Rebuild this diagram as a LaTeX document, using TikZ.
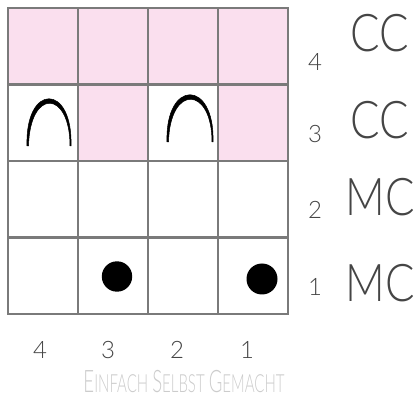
\documentclass[tikz,border=0pt]{standalone}
\usepackage{fontspec}
\setmainfont{Lato}
\newfontfamily\hand{Lato Light}
\definecolor{gridgray}{HTML}{7A7A7A}
\definecolor{cellpink}{HTML}{FADFEE}
\definecolor{inkgray}{HTML}{454545}
\definecolor{brandgray}{HTML}{CCCCCC}
\begin{document}
\begin{tikzpicture}[x=1pt,y=-1pt]
\useasboundingbox (0,0) rectangle (418,406);
\tikzset{
  cell/.style={draw=gridgray, line width=2.8pt, minimum width=70pt, minimum height=76.5pt, inner sep=0pt, outer sep=0pt, fill=white},
  pinkcell/.style={cell, fill=cellpink},
  rownum/.style={font=\hand\fontsize{24}{24}\selectfont, text=inkgray, inner sep=0pt},
  colnum/.style={font=\hand\fontsize{24}{24}\selectfont, text=inkgray, inner sep=0pt},
  yarn/.style={font=\hand\fontsize{52}{52}\selectfont, text=inkgray, inner sep=0pt, xscale=0.84},
  dotmark/.style={fill=black},
  archmark/.style={fill=black, draw=black, line width=0.5pt}
}
% row 4
\node[pinkcell] (c41) at (43,46.25) {};
\node[pinkcell] (c42) at (113,46.25) {};
\node[pinkcell] (c43) at (183,46.25) {};
\node[pinkcell] (c44) at (253,46.25) {};
% row 3
\node[cell] (c31) at (43,122.75) {};
\node[pinkcell] (c32) at (113,122.75) {};
\node[cell] (c33) at (183,122.75) {};
\node[pinkcell] (c34) at (253,122.75) {};
% row 2
\node[cell] (c21) at (43,199.25) {};
\node[cell] (c22) at (113,199.25) {};
\node[cell] (c23) at (183,199.25) {};
\node[cell] (c24) at (253,199.25) {};
% row 1
\node[cell] (c11) at (43,275.75) {};
\node[cell] (c12) at (113,275.75) {};
\node[cell] (c13) at (183,275.75) {};
\node[cell] (c14) at (253,275.75) {};
% arches
\fill[archmark] (27,146) .. controls (25,83) and (73,83) .. (71,146)
   -- (70,146) .. controls (70,90) and (30,88) .. (28.5,146) -- cycle;
\fill[archmark] (167,142) .. controls (165,79) and (215,79) .. (213,142)
   -- (212,142) .. controls (212,86) and (170,84) .. (168.5,142) -- cycle;
% dots
\fill[dotmark] (117,276.5) circle (15.2);
\fill[dotmark] (262,279) circle (15.5);
% row numbers
\node[rownum] (r4) at (315,62) {4};
\node[rownum] (r3) at (315,134) {3};
\node[rownum] (r2) at (315,210) {2};
\node[rownum] (r1) at (315,287) {1};
% yarn labels
\node[yarn] (y4) at (380,33) {CC};
\node[yarn] (y3) at (380,120) {CC};
\node[yarn] (y2) at (380,197) {MC};
\node[yarn] (y1) at (380,283) {MC};
% column numbers
\node[colnum] (n4) at (40,350) {4};
\node[colnum] (n3) at (108,350) {3};
\node[colnum] (n2) at (177,350) {2};
\node[colnum] (n1) at (247,350) {1};
% brand
\node[font=\hand\fontsize{25}{25}\selectfont, text=brandgray, inner sep=0pt, xscale=0.6] (brand) at (184,382)
  {{\fontsize{31}{31}\selectfont E}INFACH {\fontsize{31}{31}\selectfont S}ELBST {\fontsize{31}{31}\selectfont G}EMACHT};
\end{tikzpicture}
\end{document}
